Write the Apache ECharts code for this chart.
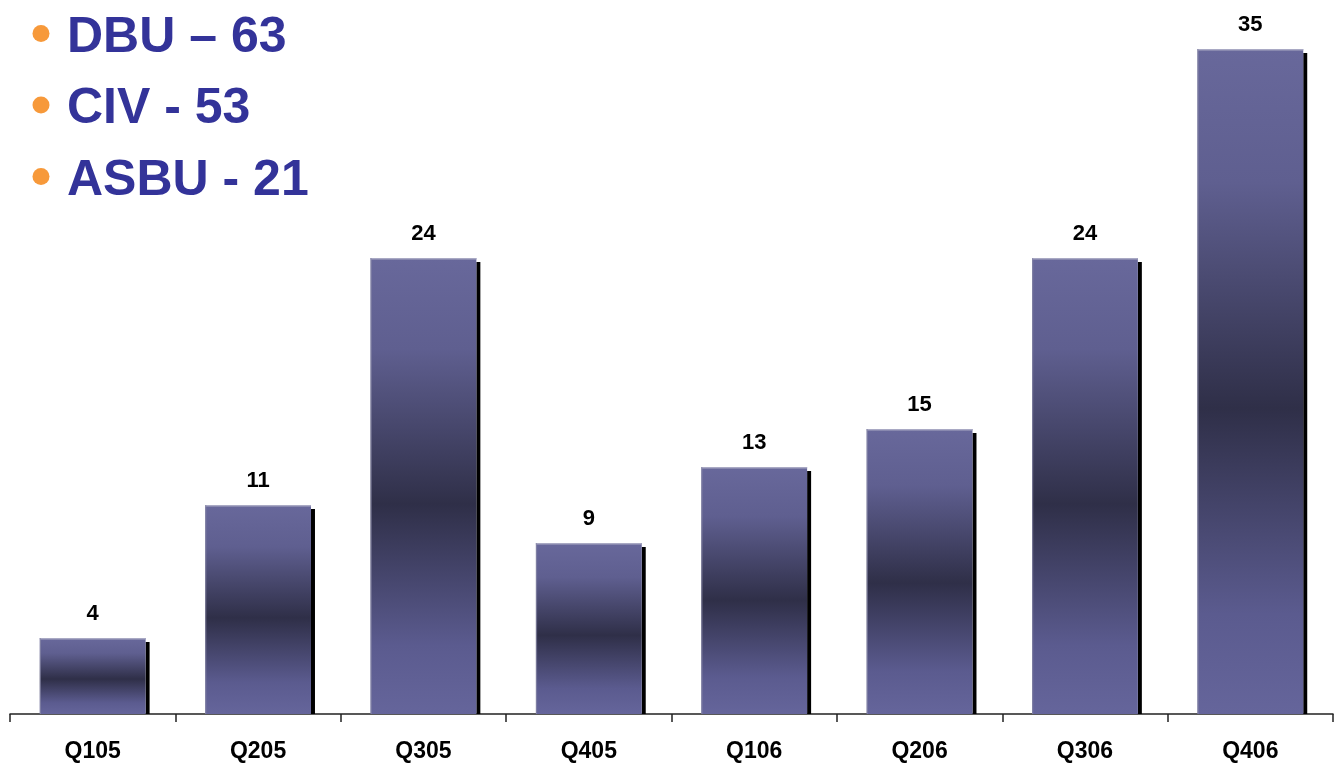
<!DOCTYPE html>
<html>
<head>
<meta charset="utf-8">
<script src="https://cdn.jsdelivr.net/npm/echarts@6/dist/echarts.min.js"></script>
<style>
  html, body { margin: 0; padding: 0; background: #ffffff; }
  #chart { width: 1339px; height: 767px; }
</style>
</head>
<body>
<div id="chart"></div>
<script>
// Quarterly counts
const quarters = ['Q105', 'Q205', 'Q305', 'Q405', 'Q106', 'Q206', 'Q306', 'Q406'];
const counts = [4, 11, 24, 9, 13, 15, 24, 35];

// Breakdown notes shown at the top left
const notes = ['DBU \u2013 63', 'CIV - 53', 'ASBU - 21'];

const chart = echarts.init(document.getElementById('chart'));

// Light at the ends, dark band a little below the middle
const barFill = new echarts.graphic.LinearGradient(0, 0, 0, 1, [
  { offset: 0, color: '#68689b' },
  { offset: 0.2, color: '#5f5f90' },
  { offset: 0.54, color: '#2f2f48' },
  { offset: 0.85, color: '#5b5b8f' },
  { offset: 1, color: '#65659b' }
]);

const noteGraphics = [];
notes.forEach(function (t, i) {
  const cy = 34.5 + i * 71.5;
  noteGraphics.push({
    type: 'circle',
    shape: { cx: 41, cy: cy - 1, r: 8.5 },
    style: { fill: '#f7993a' }
  });
  noteGraphics.push({
    type: 'text',
    x: 67,
    y: cy + 3.5,
    style: {
      text: t,
      fill: '#333399',
      font: 'bold 50px "Liberation Sans", Arial, sans-serif',
      verticalAlign: 'middle'
    }
  });
});

chart.setOption({
  animation: false,
  grid: { left: 10, right: 6, top: 49, bottom: 53, containLabel: false },
  xAxis: {
    type: 'category',
    data: quarters,
    boundaryGap: true,
    axisLine: { lineStyle: { color: '#222222', width: 1.5 } },
    axisTick: { show: true, length: 8, lineStyle: { color: '#222222', width: 1.5 } },
    axisLabel: {
      color: '#000000',
      fontFamily: '"Liberation Sans", Arial, sans-serif',
      fontWeight: 'bold',
      fontSize: 23,
      margin: 26
    }
  },
  yAxis: {
    type: 'value',
    min: 0,
    max: 35,
    show: false,
    splitLine: { show: false }
  },
  graphic: noteGraphics,
  series: [{
    type: 'custom',
    data: counts.map(function (v, i) { return [i, v]; }),
    encode: { x: 0, y: 1 },
    renderItem: function (params, api) {
      const base = api.coord([api.value(0), 0]);
      const top = api.coord([api.value(0), api.value(1)]);
      const band = api.size([1, 0])[0];
      const w = band * 0.64;
      const x0 = base[0] - w / 2;
      const h = base[1] - top[1];
      return {
        type: 'group',
        children: [
          {
            type: 'rect',
            shape: { x: x0 + w, y: top[1] + 4, width: 4, height: h - 4 },
            style: { fill: '#000000' }
          },
          {
            type: 'rect',
            shape: { x: x0, y: top[1], width: w, height: h },
            style: { fill: barFill }
          },
          {
            type: 'rect',
            shape: { x: x0, y: top[1], width: w, height: 1.5 },
            style: { fill: '#a9a9c4' }
          },
          {
            type: 'rect',
            shape: { x: x0, y: top[1], width: 1.2, height: h },
            style: { fill: '#8a8aa8', opacity: 0.7 }
          },
          {
            type: 'text',
            x: base[0],
            y: top[1] - 13,
            style: {
              text: String(api.value(1)),
              fill: '#000000',
              font: 'bold 22px "Liberation Sans", Arial, sans-serif',
              align: 'center',
              verticalAlign: 'bottom'
            }
          }
        ]
      };
    }
  }]
});
</script>
</body>
</html>
